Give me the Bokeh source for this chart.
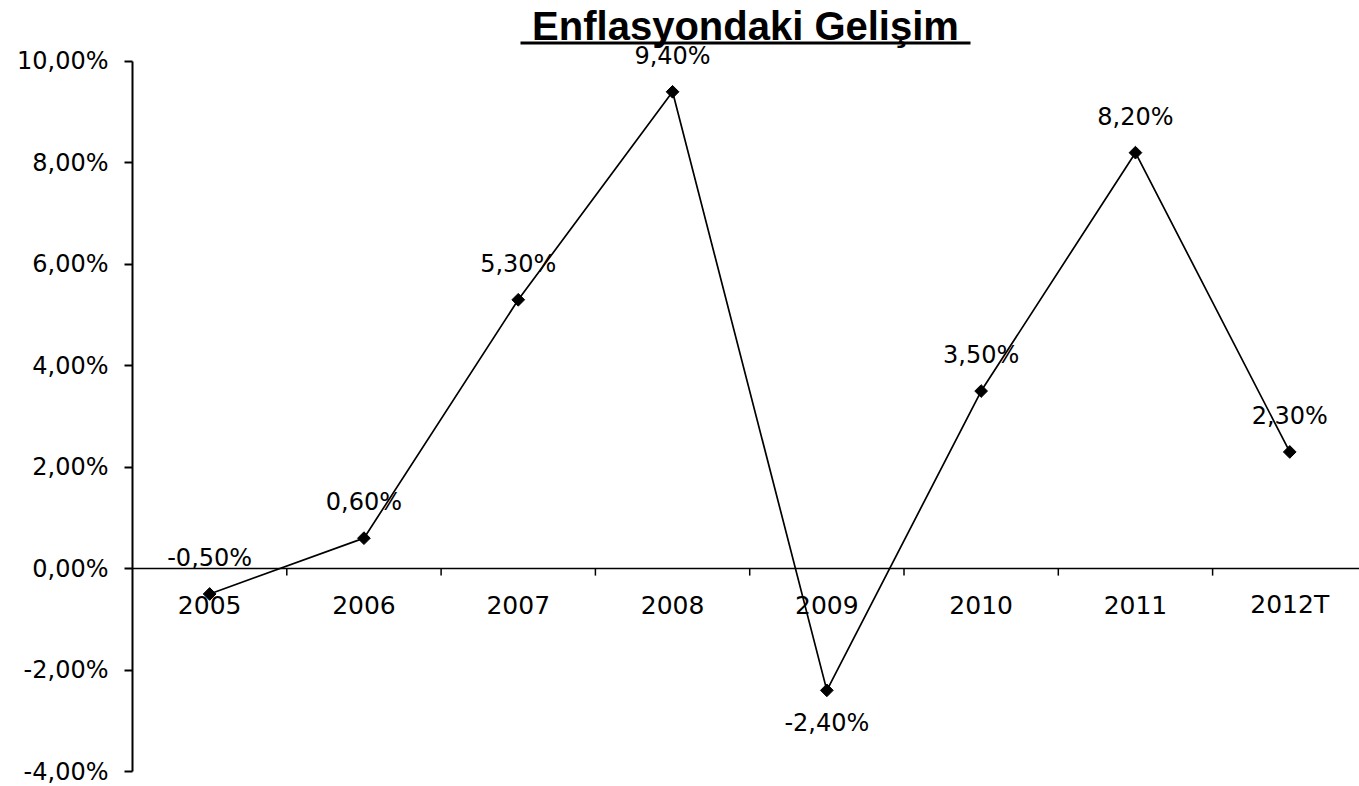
import math
from bokeh.plotting import figure
from bokeh.models import Range1d, FixedTicker, Span, Label, BoxAnnotation, ColumnDataSource
from bokeh.embed import file_html
from bokeh.resources import INLINE
from bokeh.core.properties import value

# ---------------- data ----------------
title_text = "Enflasyondaki Gelişim"
years = ["2005", "2006", "2007", "2008", "2009", "2010", "2011", "2012T"]
inflation = [-0.5, 0.6, 5.3, 9.4, -2.4, 3.5, 8.2, 2.3]
point_labels = ["-0,50%", "0,60%", "5,30%", "9,40%", "-2,40%", "3,50%", "8,20%", "2,30%"]
y_ticks = [-4, -2, 0, 2, 4, 6, 8, 10]
y_tick_labels = ["-4,00%", "-2,00%", "0,00%", "2,00%", "4,00%", "6,00%", "8,00%", "10,00%"]

# ---------------- style ----------------
label_side = ["above", "above", "above", "above", "below", "above", "above", "above"]
FONT = "DejaVu Sans"

idx = list(range(len(years)))

p = figure(width=1359, height=786, output_backend="svg", toolbar_location=None,
           x_range=Range1d(-0.5, 7.452), y_range=Range1d(-4, 11.2),
           min_border_left=132, min_border_right=0, min_border_top=0, min_border_bottom=15)
p.outline_line_color = None
p.grid.visible = False
p.xaxis.visible = False
p.background_fill_color = "white"
p.border_fill_color = "white"

yax = p.yaxis[0]
yax.ticker = FixedTicker(ticks=y_ticks)
yax.major_label_overrides = {t: l for t, l in zip(y_ticks, y_tick_labels)}
yax.bounds = (min(y_ticks), max(y_ticks))
yax.axis_line_color = "black"
yax.axis_line_width = 2
yax.major_tick_line_color = "black"
yax.major_tick_line_width = 2
yax.major_tick_out = 8
yax.major_tick_in = 0
yax.minor_tick_line_color = None
yax.major_label_standoff = 16
yax.major_label_text_font = FONT
yax.major_label_text_font_size = "24px"
yax.major_label_text_color = "black"

# zero line acting as category axis
p.add_layout(Span(location=0, dimension="width", line_color="black", line_width=1.5))
p.ray(x=[i + 0.5 for i in idx], y=[0] * len(idx), length=7, length_units="screen",
      angle=-math.pi / 2, line_color="black", line_width=1.5)
p.text(x=idx, y=[0] * len(idx), text=years, text_align="center", text_baseline="middle",
       y_offset=36, text_font=value(FONT), text_font_size="25px", text_color="black")

# series
p.line(idx, inflation, line_color="black", line_width=1.7)
p.scatter(idx, inflation, marker="square", angle=math.pi / 4, size=9,
          fill_color="black", line_color="black")

src = ColumnDataSource(dict(x=idx, y=inflation, t=point_labels,
                            off=[-36 if s == "above" else 33 for s in label_side]))
p.text(x="x", y="y", text="t", y_offset="off", source=src, text_align="center",
       text_baseline="middle", text_font=value(FONT), text_font_size="24px", text_color="black")

# title with underline
p.add_layout(Label(x=613, y=746, x_units="screen", y_units="screen", text=title_text,
                   text_font="Liberation Sans", text_font_style="bold", text_font_size="40px",
                   text_align="center", text_baseline="alphabetic", text_color="black"))
p.add_layout(BoxAnnotation(left=388, right=838, bottom=727, top=730,
                           left_units="screen", right_units="screen",
                           bottom_units="screen", top_units="screen",
                           fill_color="black", fill_alpha=1, line_color=None))

open("out.html", "w").write(file_html(p, INLINE))
